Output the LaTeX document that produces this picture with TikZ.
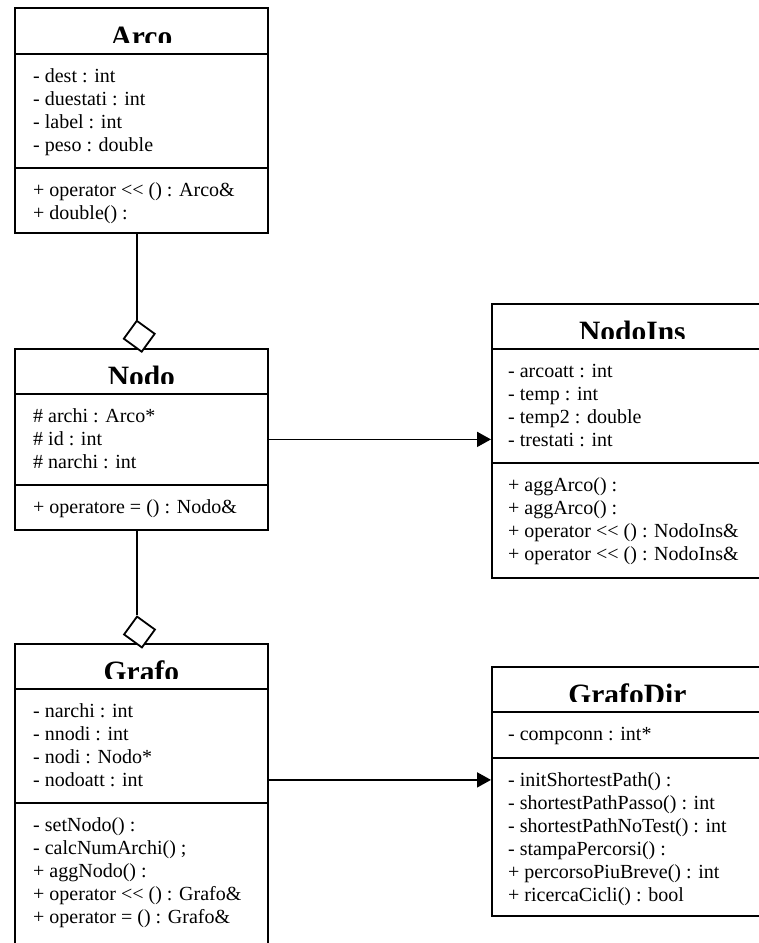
\documentclass[tikz,border=0pt]{standalone}
\usepackage{fontspec}
\setmainfont{Liberation Serif}
\usetikzlibrary{positioning,arrows.meta,shapes.geometric}

\begin{document}
\begin{tikzpicture}[x=1pt, y=-1pt,
    part/.style={draw=black, line width=1.8pt, anchor=north west,
        inner sep=0pt, minimum width=253pt},
    clsname/.style={anchor=base, inner sep=0pt,
        font=\fontsize{29.5}{31}\selectfont\bfseries},
    members/.style={anchor=north west, inner sep=0pt, align=left,
        font=\fontsize{20}{23}\selectfont},
    aggr/.style={diamond, draw=black, line width=1.8pt, fill=white,
        minimum size=32pt, inner sep=0pt, rotate=9},
    link/.style={line width=1.8pt, -},
    assoc/.style={line width=1.8pt, -{Triangle[length=14pt, width=15pt]}}
]
    \clip (0,0) rectangle (759,943);
    \fill[white] (0,0) rectangle (759,943);

    % Arco
    \node[part, minimum height=46pt] (arco) at (14,7) {};
    \node[part, minimum height=114pt] (arcoA) at (14,53) {};
    \node[part, minimum height=65pt] (arcoM) at (14,167) {};
    \begin{scope}
        \clip (arco.north west) rectangle ([yshift=-35pt]arco.north east);
        \node[clsname] (arcoName) at ([yshift=-39pt]arco.north) {Arco};
    \end{scope}
    \node[members] (arcoAttr) at (33,67) {\rule{0pt}{15pt}- dest : int\\
        - duestati : int\\ - label : int\\ - peso : double};
    \node[members] (arcoOps) at (33,181) {\rule{0pt}{15pt}+ operator <{}< () : Arco\&\\
        + double() :};

    % Nodo
    \node[part, minimum height=45pt] (nodo) at (14,348) {};
    \node[part, minimum height=91pt] (nodoA) at (14,393) {};
    \node[part, minimum height=45pt] (nodoM) at (14,484) {};
    \begin{scope}
        \clip (nodo.north west) rectangle ([yshift=-35pt]nodo.north east);
        \node[clsname] (nodoName) at ([yshift=-38pt]nodo.north) {Nodo};
    \end{scope}
    \node[members] (nodoAttr) at (33,407) {\rule{0pt}{15pt}\# archi : Arco*\\
        \# id : int\\ \# narchi : int};
    \node[members] (nodoOps) at (33,498) {\rule{0pt}{15pt}+ operatore = () : Nodo\&};

    % NodoIns
    \node[part, minimum width=281pt, minimum height=45pt] (ins) at (491,303) {};
    \node[part, minimum width=281pt, minimum height=114pt] (insA) at (491,348) {};
    \node[part, minimum width=281pt, minimum height=115pt] (insM) at (491,462) {};
    \begin{scope}
        \clip (ins.north west) rectangle ([yshift=-35pt]ins.north east);
        \node[clsname] (insName) at ([yshift=-38pt]ins.north) {NodoIns};
    \end{scope}
    \node[members] (insAttr) at (508,362) {\rule{0pt}{15pt}- arcoatt : int\\
        - temp : int\\ - temp2 : double\\ - trestati : int};
    \node[members] (insOps) at (508,476) {\rule{0pt}{15pt}+ aggArco() :\\
        + aggArco() :\\ + operator <{}< () : NodoIns\&\\
        + operator <{}< () : NodoIns\&};

    % Grafo
    \node[part, minimum height=45pt] (grafo) at (14,643) {};
    \node[part, minimum height=114pt] (grafoA) at (14,688) {};
    \node[part, minimum height=160pt] (grafoM) at (14,802) {};
    \begin{scope}
        \clip (grafo.north west) rectangle ([yshift=-35pt]grafo.north east);
        \node[clsname] (grafoName) at ([yshift=-38pt]grafo.north) {Grafo};
    \end{scope}
    \node[members] (grafoAttr) at (33,702) {\rule{0pt}{15pt}- narchi : int\\
        - nnodi : int\\ - nodi : Nodo*\\ - nodoatt : int};
    \node[members] (grafoOps) at (33,816) {\rule{0pt}{15pt}- setNodo() :\\
        - calcNumArchi() ;\\ + aggNodo() :\\ + operator <{}< () : Grafo\&\\
        + operator = () : Grafo\&};

    % GrafoDir
    \node[part, minimum width=271pt, minimum height=45pt] (dir) at (491,666) {};
    \node[part, minimum width=271pt, minimum height=46pt] (dirA) at (491,711) {};
    \node[part, minimum width=271pt, minimum height=158pt] (dirM) at (491,757) {};
    \begin{scope}
        \clip (dir.north west) rectangle ([yshift=-35pt]dir.north east);
        \node[clsname] (dirName) at ([yshift=-38pt]dir.north) {GrafoDir};
    \end{scope}
    \node[members] (dirAttr) at (508,725) {\rule{0pt}{15pt}- compconn : int*};
    \node[members] (dirOps) at (508,771) {\rule{0pt}{15pt}- initShortestPath() :\\
        - shortestPathPasso() : int\\ - shortestPathNoTest() : int\\
        - stampaPercorsi() :\\ + percorsoPiuBreve() : int\\
        + ricercaCicli() : bool};

    % aggregations
    \node[aggr] (agg1) at (139.25,336.25) {};
    \node[aggr] (agg2) at (139.5,632) {};
    \draw[link] (agg1.north |- arcoM.south) -- (agg1.north);
    \draw[link] (agg2.north |- nodoM.south) -- (agg2.north);

    % associations
    \coordinate (grafoOut) at ([yshift=-34pt]grafoA.east);
    \draw[assoc] (nodoA.east) -- (nodoA.east -| insA.west);
    \draw[assoc] (grafoOut) -- (grafoOut -| dirM.west);
\end{tikzpicture}
\end{document}
